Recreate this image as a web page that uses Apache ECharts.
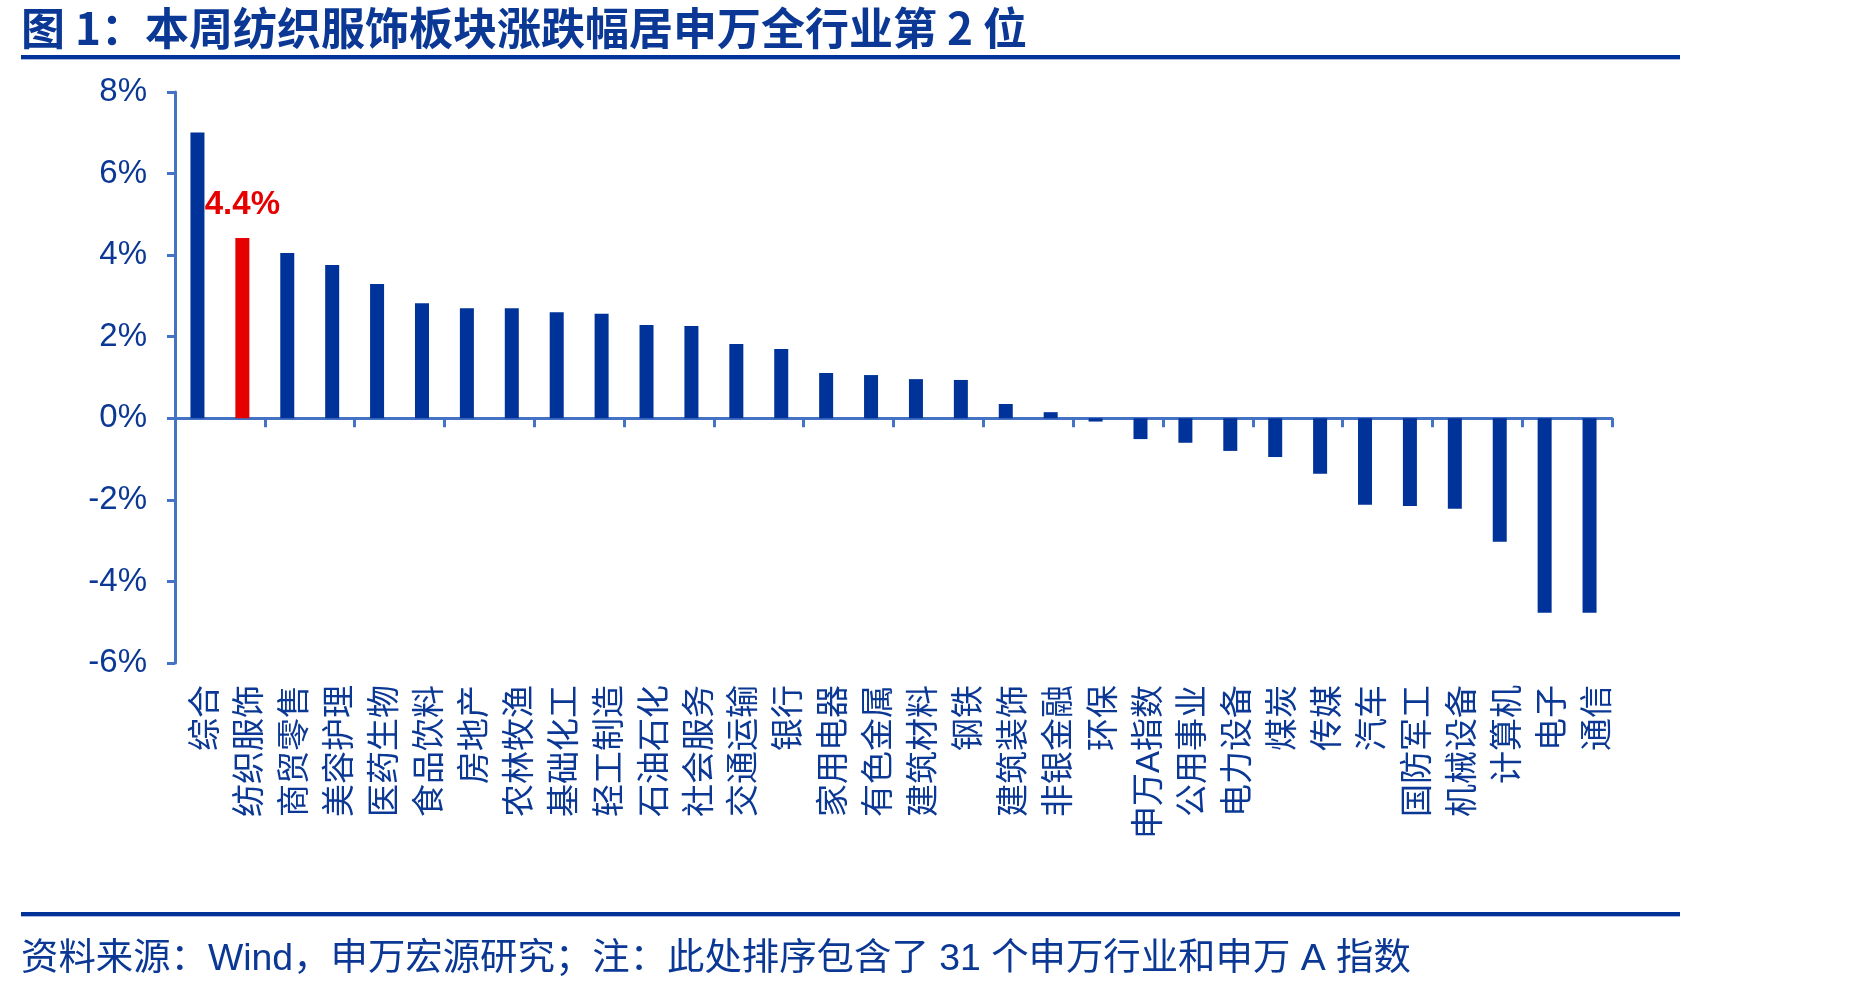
<!DOCTYPE html>
<html>
<head>
<meta charset="utf-8">
<script src="https://cdn.jsdelivr.net/npm/echarts@6/dist/echarts.min.js"></script>
<style>
  html, body { margin: 0; padding: 0; background: #fff; }
  #chart { width: 1849px; height: 990px; }
</style>
</head>
<body>
<div id="chart"></div>
<script>
var categories = ['综合', '纺织服饰', '商贸零售', '美容护理', '医药生物', '食品饮料', '房地产', '农林牧渔',
    '基础化工', '轻工制造', '石油石化', '社会服务', '交通运输', '银行', '家用电器', '有色金属',
    '建筑材料', '钢铁', '建筑装饰', '非银金融', '环保', '申万A指数', '公用事业', '电力设备',
    '煤炭', '传媒', '汽车', '国防军工', '机械设备', '计算机', '电子', '通信'];

var weeklyChange = [7.01, 4.42, 4.05, 3.76, 3.29, 2.82, 2.70, 2.70,
    2.60, 2.56, 2.29, 2.26, 1.82, 1.70, 1.11, 1.06,
    0.96, 0.94, 0.35, 0.15, -0.08, -0.51, -0.60, -0.80,
    -0.95, -1.36, -2.12, -2.15, -2.22, -3.03, -4.77, -4.77];

var highlightIndex = 1;
var highlightLabel = '4.4%';

var titleText = '图 1：本周纺织服饰板块涨跌幅居申万全行业第 2 位';
var sourceText = '资料来源：Wind，申万宏源研究；注：此处排序包含了 31 个申万行业和申万 A 指数';

var barBlue = '#003399';
var barRed = '#e60000';
var axisBlue = '#4472c4';
var textBlue = '#0b3894';
var fontCN = '"Liberation Sans", "Noto Sans CJK SC", sans-serif';

var barData = weeklyChange.map(function (v, i) {
    var item = { value: v, itemStyle: { color: i === highlightIndex ? barRed : barBlue } };
    if (i === highlightIndex) {
        item.label = {
            show: true,
            position: 'top',
            distance: 17,
            formatter: highlightLabel,
            color: barRed,
            fontSize: 33,
            fontWeight: 'bold',
            fontFamily: '"Liberation Sans", sans-serif'
        };
    }
    return item;
});

var myChart = echarts.init(document.getElementById('chart'));

var option = {
    backgroundColor: '#fff',
    animation: false,
    title: {
        text: titleText,
        left: 16,
        top: 1,
        textStyle: {
            fontSize: 44,
            fontWeight: 'bold',
            color: textBlue,
            fontFamily: '"Noto Sans CJK SC", sans-serif'
        }
    },
    grid: [
        { left: 175, right: 237, top: 92, bottom: 327, containLabel: false, outerBoundsMode: 'none' },
        // same plot, nudged right: carries only the category labels (they sit a bit right of the bars)
        { left: 184, right: 228, top: 92, bottom: 327, containLabel: false, outerBoundsMode: 'none' }
    ],
    xAxis: [
        {
            type: 'category',
            gridIndex: 0,
            data: categories,
            position: 'bottom',
            axisLine: { show: true, onZero: true, lineStyle: { color: axisBlue, width: 3 } },
            axisTick: { show: true, length: 9, lineStyle: { color: axisBlue, width: 3 } },
            axisLabel: { show: false },
            splitLine: { show: false }
        },
        {
            type: 'category',
            gridIndex: 1,
            data: categories,
            position: 'bottom',
            axisLine: { show: false, onZero: false },
            axisTick: { show: false },
            axisLabel: {
                show: true,
                interval: 0,
                rotate: 90,
                margin: 22,
                fontSize: 33,
                color: textBlue,
                fontFamily: fontCN
            },
            splitLine: { show: false }
        }
    ],
    yAxis: [
        {
            type: 'value',
            gridIndex: 0,
            min: -6,
            max: 8,
            interval: 2,
            axisLine: { show: true, lineStyle: { color: axisBlue, width: 3 } },
            axisTick: { show: true, length: 8, lineStyle: { color: axisBlue, width: 3 } },
            axisLabel: {
                formatter: '{value}%',
                fontSize: 33,
                margin: 28,
                color: textBlue,
                fontFamily: '"Liberation Sans", sans-serif'
            },
            splitLine: { show: false }
        },
        {
            type: 'value',
            gridIndex: 1,
            min: -6,
            max: 8,
            show: false
        }
    ],
    series: [
        {
            type: 'bar',
            xAxisIndex: 0,
            yAxisIndex: 0,
            data: barData,
            barWidth: 14
        }
    ],
    graphic: [
        { type: 'rect', shape: { x: 21, y: 55, width: 1659, height: 4 }, style: { fill: barBlue } },
        { type: 'rect', shape: { x: 21, y: 59, width: 1659, height: 1 }, style: { fill: '#a9b9e0' } },
        { type: 'rect', shape: { x: 21, y: 912, width: 1659, height: 4 }, style: { fill: barBlue } },
        { type: 'rect', shape: { x: 21, y: 916, width: 1659, height: 1 }, style: { fill: '#a9b9e0' } },
        {
            type: 'text',
            left: 21,
            top: 941,
            style: {
                text: sourceText,
                fontSize: 37.4,
                fill: textBlue,
                fontFamily: fontCN
            }
        }
    ]
};

myChart.setOption(option);
</script>
</body>
</html>
